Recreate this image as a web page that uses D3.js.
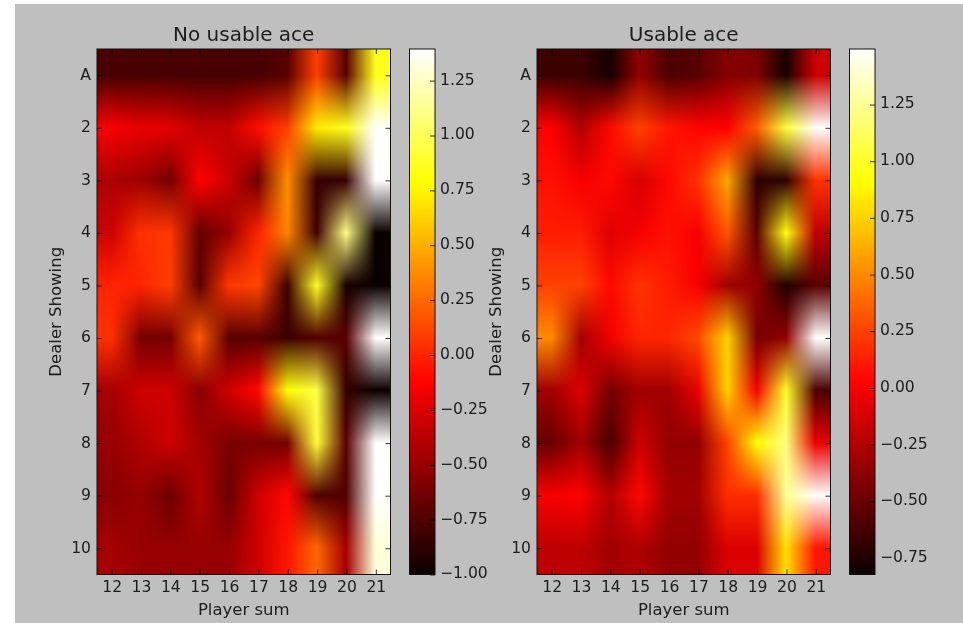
<!DOCTYPE html>
<html><head><meta charset="utf-8">
<style>html,body{margin:0;padding:0;background:#fff;overflow:hidden}svg{display:block;filter:blur(.35px)}text{font-family:"DejaVu Sans";fill:#1c1c1c}</style>
<script src="https://cdn.jsdelivr.net/npm/d3@7"></script></head>
<body><script>
const playerSums=[12,13,14,15,16,17,18,19,20,21];
const dealerCards=["A","2","3","4","5","6","7","8","9","10"];
const noAceValues=[
[-.78,-.78,-.78,-.78,-.78,-.78,-.72,.1,-.72,.85],
[-.15,-.2,-.22,-.35,-.35,-.08,.1,.72,.85,1.39],
[-.42,-.47,-.62,-.12,-.32,-.65,.38,-.85,-.85,1.39],
[-.3,.05,.07,-.68,-.5,0,.35,-.82,1.1,-1],
[0,0,.1,-.72,.07,.12,-.82,.88,-.95,-1],
[.05,-.62,-.62,.2,-.72,-.72,-.82,-.75,-.72,1.39],
[-.45,-.3,-.3,-.55,-.3,-.1,.8,.95,-.85,-1],
[-.5,-.4,-.3,-.45,-.6,-.6,-.62,.92,-.72,1.39],
[-.55,-.5,-.65,-.4,-.65,-.3,-.1,-.75,-.75,1.39],
[-.45,-.5,-.5,-.5,-.5,-.3,-.05,.25,-.45,1.3]];
const aceValues=[
[-.65,-.65,-.78,-.35,-.6,-.55,-.4,-.42,-.78,-.15],
[.02,-.25,.05,.25,.1,.03,.02,.35,1.05,1.49],
[.08,0,.05,-.12,.05,.2,.6,-.7,-.7,.2],
[.12,.12,-.08,0,.08,0,.32,-.55,.95,-.2],
[.25,.25,.05,.2,.12,0,-.3,-.35,-.75,-.55],
[.5,-.3,-.02,.15,.15,.28,.75,-.45,-.35,1.49],
[-.3,-.1,-.45,-.3,-.3,-.05,.75,-.02,1,-.6],
[-.5,-.3,-.6,-.15,-.35,-.35,.25,.92,1.2,-.05],
[0,.02,-.25,.05,-.3,-.3,.18,.18,1.25,1.49],
[-.2,-.2,-.3,-.25,-.35,-.35,-.1,-.1,.8,.1]];
const panelTitles=["No usable ace","Usable ace"];
const noAceRange=[-1,1.394], aceRange=[-.823,1.495];
const noAceTicks=[-1,-.75,-.5,-.25,0,.25,.5,.75,1,1.25];
const aceTicks=[-.75,-.5,-.25,0,.25,.5,.75,1,1.25];

const hotStops=[0,.365,.746,1], hotColors=["#0b0000","#ff0000","#ffff00","#ffffff"];
const hot=d3.scaleLinear().domain(hotStops).range(hotColors).clamp(true);

const svg=d3.select("body").append("svg").attr("width",963).attr("height",623);
svg.append("rect").attr("x",15).attr("y",4).attr("width",948).attr("height",619).attr("fill","#bfbfbf");
const defs=svg.append("defs");

const fmt=d3.format(".2f"), minus=v=>fmt(v).replace("-","\u2212");
function panel(i,values,range,ticks,L){
  const T=49,B=574.5,R=L+293.5,CL=L+312.5,CR=L+338;
  const g=svg.append("g");
  const x=d3.scalePoint().domain(playerSums).range([L,R]).padding(.5);
  const y=d3.scalePoint().domain(dealerCards).range([T,B]).padding(.5);
  const norm=d3.scaleLinear().domain(range).range([0,1]).clamp(true);
  // colour each cell first, then blend the colours between cell centres
  const cells=values.map(r=>r.map(v=>{const c=d3.rgb(hot(norm(v)));return [c.r,c.g,c.b];}));
  const W=Math.round(R-L),H=Math.round(B-T);
  const cv=document.createElement("canvas");cv.width=W;cv.height=H;
  const ctx=cv.getContext("2d"),img=ctx.createImageData(W,H);
  const cx=d3.scaleLinear().domain([L+x.step()/2,R-x.step()/2]).range([0,playerSums.length-1]).clamp(true);
  const cy=d3.scaleLinear().domain([T+y.step()/2,B-y.step()/2]).range([0,dealerCards.length-1]).clamp(true);
  for(let py=0;py<H;py++)for(let px=0;px<W;px++){
    const u=cx(L+px+.5),w=cy(T+py+.5),a=Math.floor(u),b=Math.floor(w);
    const a1=Math.min(a+1,9),b1=Math.min(b+1,9),fu=u-a,fw=w-b,o=(py*W+px)*4;
    for(let k=0;k<3;k++)img.data[o+k]=(cells[b][a][k]*(1-fu)+cells[b][a1][k]*fu)*(1-fw)+(cells[b1][a][k]*(1-fu)+cells[b1][a1][k]*fu)*fw;
    img.data[o+3]=255;
  }
  ctx.putImageData(img,0,0);
  g.append("image").attr("x",L).attr("y",T).attr("width",R-L).attr("height",B-T).attr("preserveAspectRatio","none").attr("href",cv.toDataURL());
  const bottom=g.append("g").attr("transform",`translate(0,${B})`).call(d3.axisBottom(x).tickSize(-5).tickPadding(6));
  const top=g.append("g").attr("transform",`translate(0,${T})`).call(d3.axisTop(x).tickSize(-5).tickFormat(""));
  const left=g.append("g").attr("transform",`translate(${L},0)`).call(d3.axisLeft(y).tickSize(-5).tickPadding(6));
  const right=g.append("g").attr("transform",`translate(${R},0)`).call(d3.axisRight(y).tickSize(-5).tickFormat(""));
  // colour bar
  const cs=d3.scaleLinear().domain(range).range([B,T]);
  const id="cb"+i,grad=defs.append("linearGradient").attr("id",id).attr("x1",0).attr("x2",0).attr("y1",1).attr("y2",0);
  hotStops.forEach((s,k)=>grad.append("stop").attr("offset",s).attr("stop-color",hotColors[k]));
  g.append("rect").attr("x",CL).attr("y",T).attr("width",CR-CL).attr("height",B-T).attr("fill",`url(#${id})`);
  const cb=g.append("g").attr("transform",`translate(${CR},0)`).call(d3.axisRight(cs).tickValues(ticks).tickFormat(minus).tickSize(-5).tickPadding(5));
  [bottom,top,left,right,cb].forEach(a=>{a.select(".domain").remove();a.selectAll("text").style("font-family",'"DejaVu Sans"').style("font-size","15.6px").attr("fill","#1c1c1c");a.selectAll("line").attr("stroke","#000").attr("stroke-width",.8);});
  left.selectAll("text").attr("dy","0.25em");
  cb.selectAll("text").attr("dy","0.22em");
  g.append("rect").attr("x",L).attr("y",T).attr("width",R-L).attr("height",B-T).attr("fill","none").attr("stroke","#111").attr("stroke-width",1);
  g.append("rect").attr("x",CL).attr("y",T).attr("width",CR-CL).attr("height",B-T).attr("fill","none").attr("stroke","#111").attr("stroke-width",1);
  g.append("text").attr("x",(L+R)/2).attr("y",41).attr("text-anchor","middle").style("font-size","20px").text(panelTitles[i]);
  g.append("text").attr("x",(L+R)/2).attr("y",614.5).attr("text-anchor","middle").style("font-size","16.5px").text("Player sum");
  g.append("text").attr("transform",`translate(${L-36},${(T+B)/2}) rotate(-90)`).attr("text-anchor","middle").style("font-size","16.5px").text("Dealer Showing");
}
panel(0,noAceValues,noAceRange,noAceTicks,97);
panel(1,aceValues,aceRange,aceTicks,537);
</script></body></html>
